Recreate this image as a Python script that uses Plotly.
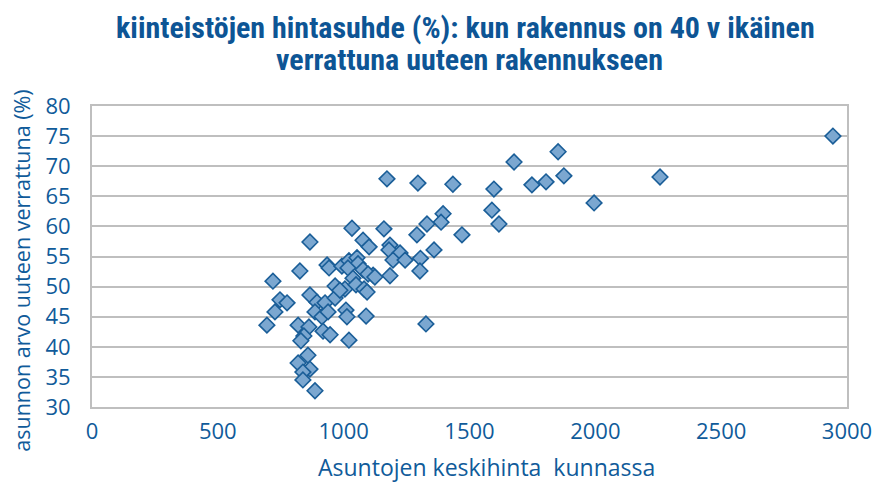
import plotly.graph_objects as go

# Data
avg_price = [2944, 1852, 1875, 2257, 1995, 1677, 1748, 1804, 1597, 1434,
             1295, 1172, 1589, 1617, 1395, 1387, 1331, 1470, 1291, 1160,
             1033, 866, 1077, 1101, 1359, 1184, 1180, 1224, 1196, 1244,
             1305, 1303, 1184, 1117, 826, 934, 942, 993, 1021, 1053,
             1057, 1017, 1077, 1097, 1124, 1037, 719, 966, 1005, 1049,
             1081, 1093, 747, 775, 727, 866, 894, 926, 966, 886,
             914, 938, 1009, 1013, 1089, 695, 819, 862, 918, 946,
             842, 830, 1021, 1327, 858, 819, 866, 838, 838, 886,
             985]
value_ratio = [75.0, 72.4, 68.4, 68.2, 63.9, 70.7, 66.9, 67.4, 66.2, 67.0,
               67.2, 67.9, 62.7, 60.4, 62.1, 60.7, 60.4, 58.6, 58.6, 59.6,
               59.7, 57.4, 57.7, 56.6, 56.1, 56.9, 56.1, 55.6, 54.4, 54.4,
               54.7, 52.6, 51.8, 51.9, 52.6, 53.6, 53.1, 53.4, 54.3, 54.8,
               53.8, 53.1, 52.8, 52.1, 51.6, 51.4, 50.9, 50.1, 49.6, 50.3,
               49.6, 49.1, 47.8, 47.3, 45.8, 48.6, 47.4, 47.3, 48.1, 45.8,
               45.0, 45.8, 46.1, 45.0, 45.1, 43.6, 43.6, 43.3, 42.6, 42.0,
               41.8, 41.0, 41.1, 43.8, 38.6, 37.3, 36.3, 35.8, 34.5, 32.7,
               49.4]

x_ticks = [0, 500, 1000, 1500, 2000, 2500, 3000]
y_ticks = [30, 35, 40, 45, 50, 55, 60, 65, 70, 75, 80]

title_line1 = "kiinteistöjen hintasuhde (%): kun rakennus on 40 v ikäinen"
title_line2 = "verrattuna uuteen rakennukseen"
x_title = "Asuntojen keskihinta  kunnassa"
y_title = "asunnon arvo uuteen verrattuna (%)"

TEXT = "#105B9A"
TITLE_COLOR = "#0D5595"
GRID = "#BFBFBF"
FONT = "Open Sans, sans-serif"
TITLE_FONT = "Roboto Condensed, Noto Sans Condensed, DejaVu Sans Condensed, sans-serif"

fig = go.Figure()
fig.add_trace(go.Scatter(
    x=avg_price, y=value_ratio, mode="markers",
    marker=dict(symbol="diamond", size=12, color="#7BA7D0",
                line=dict(color="#1A5E98", width=1.6)),
    showlegend=False, hoverinfo="x+y",
))

fig.update_layout(
    width=880, height=475,
    margin=dict(l=84, r=41, t=98, b=76),
    paper_bgcolor="white", plot_bgcolor="white",
    font=dict(family=FONT, color=TEXT, size=22),
    annotations=[
        dict(text="<b>" + title_line1 + "</b>", xref="paper", yref="paper",
             x=0.495, y=1.262, xanchor="center", yanchor="middle", showarrow=False,
             font=dict(family=TITLE_FONT, size=30, color=TITLE_COLOR)),
        dict(text="<b>" + title_line2 + "</b>", xref="paper", yref="paper",
             x=0.5, y=1.153, xanchor="center", yanchor="middle", showarrow=False,
             font=dict(family=TITLE_FONT, size=30, color=TITLE_COLOR)),
        dict(text=x_title, xref="paper", yref="paper", x=0.522, y=-0.198,
             xanchor="center", yanchor="middle", showarrow=False,
             font=dict(family=FONT, size=23, color=TEXT)),
        dict(text=y_title, xref="paper", yref="paper", x=-0.093, y=0.452,
             xanchor="center", yanchor="middle", showarrow=False, textangle=-90,
             borderpad=0, font=dict(family=FONT, size=21.5, color=TEXT)),
    ],
)
fig.update_xaxes(range=[0, 3000], tickvals=x_ticks, showgrid=False, zeroline=False,
                 showline=True, linecolor=GRID, linewidth=2, mirror=True,
                 ticks="", ticklabelstandoff=4, tickfont=dict(size=22, color=TEXT))
fig.update_yaxes(range=[30, 80], tickvals=y_ticks, showgrid=True, gridcolor=GRID,
                 gridwidth=2, zeroline=False, showline=True, linecolor=GRID,
                 linewidth=2, mirror=True, ticks="", ticklabelstandoff=15,
                 tickfont=dict(size=22, color=TEXT))

fig.write_html("out.html")
